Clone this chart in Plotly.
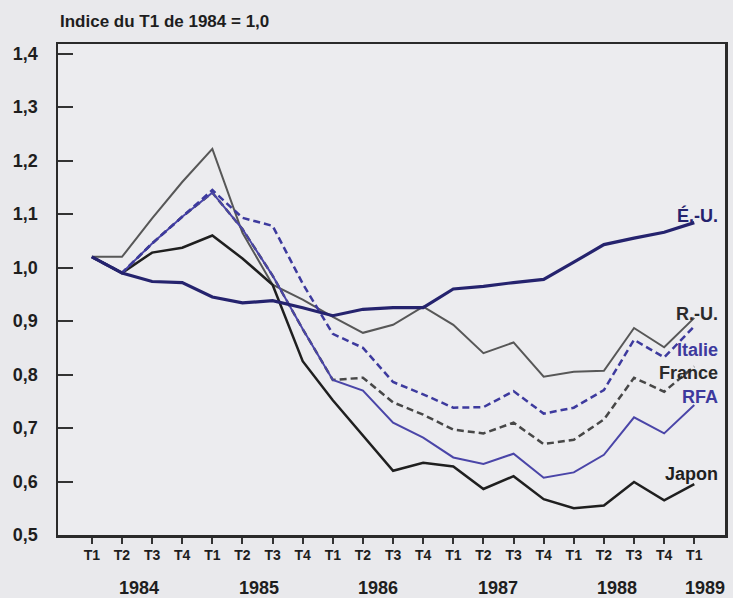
import plotly.graph_objects as go

quarters = ["T1", "T2", "T3", "T4"] * 5 + ["T1"]
x_idx = list(range(len(quarters)))
years = ["1984", "1985", "1986", "1987", "1988", "1989"]
year_pos = [1.55, 5.55, 9.5, 13.5, 17.45, 20.35]

eu = [1.02, 0.99, 0.974, 0.972, 0.945, 0.934, 0.938, 0.925, 0.91, 0.922, 0.925,
      0.925, 0.96, 0.965, 0.972, 0.978, 1.01, 1.043, 1.055, 1.066, 1.084]
ru = [1.02, 1.02, 1.092, 1.16, 1.222, 1.065, 0.968, 0.94, 0.908, 0.878, 0.893,
      0.927, 0.893, 0.84, 0.86, 0.796, 0.805, 0.807, 0.887, 0.851, 0.906]
italie = [1.02, 0.99, 1.045, 1.095, 1.145, 1.093, 1.078, 0.97, 0.876, 0.85, 0.786,
          0.763, 0.738, 0.739, 0.769, 0.727, 0.738, 0.771, 0.865, 0.832, 0.89]
france = [1.02, 0.99, 1.045, 1.095, 1.14, 1.072, 0.985, 0.885, 0.79, 0.794, 0.748,
          0.725, 0.697, 0.69, 0.71, 0.67, 0.678, 0.716, 0.794, 0.768, 0.815]
rfa = [1.02, 0.99, 1.045, 1.095, 1.14, 1.072, 0.985, 0.885, 0.79, 0.77, 0.71,
       0.682, 0.645, 0.633, 0.652, 0.607, 0.617, 0.65, 0.72, 0.69, 0.743]
japon = [1.02, 0.99, 1.028, 1.037, 1.06, 1.017, 0.968, 0.825, 0.752, 0.685, 0.62,
         0.635, 0.628, 0.586, 0.61, 0.567, 0.55, 0.555, 0.599, 0.565, 0.595]

y_ticks = [0.5, 0.6, 0.7, 0.8, 0.9, 1.0, 1.1, 1.2, 1.3, 1.4]
y_ticktext = ["0,5", "0,6", "0,7", "0,8", "0,9", "1,0", "1,1", "1,2", "1,3", "1,4"]

series = [
    ("R.-U.", ru, "#575757", 2, "solid", 0.914),
    ("Japon", japon, "#1f1f1f", 2.5, "solid", 0.614),
    ("France", france, "#474747", 2.5, "7px,4px", 0.803),
    ("RFA", rfa, "#4a45a8", 2, "solid", 0.758),
    ("Italie", italie, "#3d3a9e", 2.5, "7px,4px", 0.846),
    ("É.-U.", eu, "#25236e", 3.2, "solid", 1.097),
]
label_colors = {"R.-U.": "#2a2a2a", "Japon": "#1f1f1f", "France": "#2a2a2a",
                "RFA": "#3d3a9e", "Italie": "#3d3a9e", "É.-U.": "#25236e"}

FONT = "Liberation Sans, Arial, sans-serif"
fig = go.Figure()
for name, vals, col, w, dash, ly in series:
    fig.add_trace(go.Scatter(x=x_idx, y=vals, mode="lines", name=name,
                             line=dict(color=col, width=w, dash=dash),
                             showlegend=False, hoverinfo="skip"))

annotations = []
for name, vals, col, w, dash, ly in series:
    annotations.append(dict(x=0.992, xref="paper", y=ly, yref="y", text="<b>%s</b>" % name,
                            showarrow=False, xanchor="right", yanchor="middle",
                            font=dict(family=FONT, size=18, color=label_colors[name])))
for yr, xp in zip(years, year_pos):
    annotations.append(dict(x=xp, xref="x", y=-0.108, yref="paper", text="<b>%s</b>" % yr,
                            showarrow=False, xanchor="center", yanchor="middle",
                            font=dict(family=FONT, size=18, color="#1e1e1e")))
annotations.append(dict(x=0, xref="paper", y=1.045, yref="paper",
                        text="<b>Indice du T1 de 1984 = 1,0</b>", showarrow=False,
                        xanchor="left", yanchor="middle",
                        font=dict(family=FONT, size=17, color="#1e1e1e")))

fig.update_layout(
    width=733, height=598,
    margin=dict(l=58, r=5, t=44, b=63),
    paper_bgcolor="#e9e9ec", plot_bgcolor="#ececef",
    annotations=annotations,
    font=dict(family=FONT, color="#1e1e1e"),
)
fig.update_xaxes(range=[-1.124, 21.02], tickvals=x_idx,
                 ticktext=["<b>%s</b>" % q for q in quarters],
                 ticks="outside", ticklen=6, tickwidth=2, tickcolor="#333",
                 tickfont=dict(family=FONT, size=14, color="#1e1e1e"),
                 showgrid=False, zeroline=False, showline=True, linecolor="#2a2a2a",
                 linewidth=2.5, mirror=True)
fig.update_yaxes(range=[0.5, 1.418], tickvals=y_ticks,
                 ticktext=["<b>%s</b>" % t for t in y_ticktext],
                 ticks="inside", ticklen=15, tickwidth=2, tickcolor="#333",
                 tickfont=dict(family=FONT, size=18, color="#1e1e1e"),
                 ticklabelstandoff=14,
                 showgrid=False, zeroline=False, showline=True, linecolor="#2a2a2a",
                 linewidth=2.5, mirror=True)

fig.write_html("out.html", config={"displayModeBar": False, "staticPlot": True},
               post_script="document.body.style.margin='0px';document.body.style.overflow='hidden';")
